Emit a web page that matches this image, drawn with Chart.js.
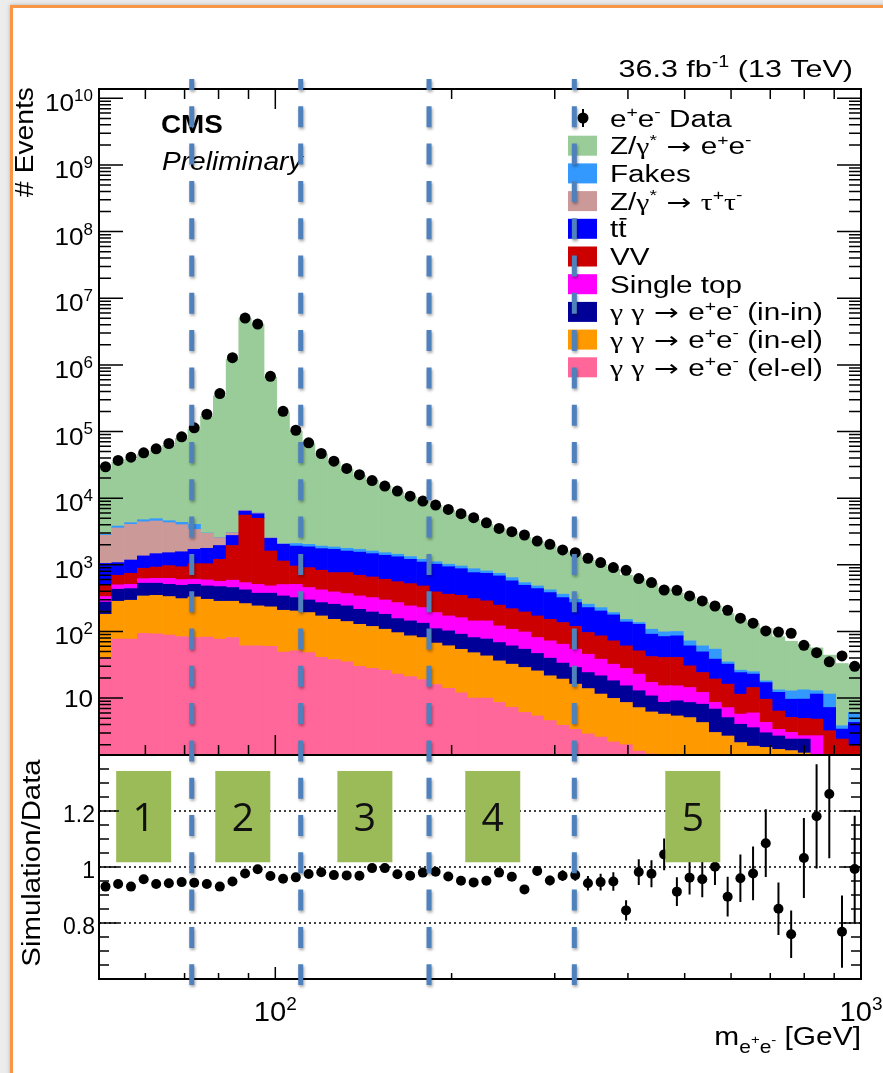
<!DOCTYPE html>
<html>
<head>
<meta charset="utf-8">
<script src="https://cdn.jsdelivr.net/npm/chart.js@4/dist/chart.umd.min.js"></script>
<style>
html, body { margin: 0; padding: 0; background: #ececec; }
#slide { position: absolute; left: 10px; top: 5px; width: 900px; height: 1100px; background: #fff;
         border-left: 3px solid #f79646; border-top: 3px solid #f79646; box-shadow: 0 0 4px rgba(0,0,0,0.25); }
canvas { position: absolute; left: 0; top: 0; }
</style>
</head>
<body>
<div id="slide"></div>
<canvas id="upper" width="883" height="1073"></canvas>
<canvas id="lower" width="883" height="1073"></canvas>
<script>
// bin centres of m(ee) in GeV (60 log bins, 50 - 1000 GeV)
const massBins = [51.3, 53.9, 56.7, 59.6, 62.6, 65.8, 69.2, 72.7, 76.4, 80.4,
  84.5, 88.8, 93.3, 98.1, 103.1, 108.4, 114.0, 119.8, 125.9, 132.4,
  139.2, 146.3, 153.8, 161.6, 169.9, 178.6, 187.8, 197.4, 207.5, 218.1,
  229.3, 241.0, 253.4, 266.3, 280.0, 294.3, 309.4, 325.2, 341.8, 359.3,
  377.7, 397.1, 417.4, 438.8, 461.2, 484.9, 509.7, 535.8, 563.2, 592.0,
  622.4, 654.2, 687.7, 722.9, 759.9, 798.9, 839.8, 882.8, 928.0, 975.5];

// observed events
const dataEvents = [29600, 36800, 41200, 48000, 55100, 66100, 83300, 113600, 181600, 370800,
  1284000, 5050000, 4100000, 673000, 201400, 104500, 67700, 46800, 35900, 27900,
  22500, 18400, 15200, 12800, 10700, 9040, 7870, 6780, 5850, 5090,
  4260, 3520, 3140, 2800, 2270, 2030, 1670, 1520, 1250, 1080,
  908, 827, 621, 541, 419, 415, 341, 287, 241, 208,
  158, 133, 102, 98, 94, 62, 48, 35, 43, 30];

// simulated contributions (stacked, bottom first)
const ggElEl = [41, 77, 77, 94, 92, 88, 84, 81, 82, 77,
  81, 61, 61, 60, 49, 51, 48, 41, 38, 35,
  30, 28, 26, 23, 21, 19, 16, 14, 12, 10,
  10, 8.6, 7.3, 6.1, 5.4, 4.6, 3.9, 3.4, 2.9, 2.6,
  2.2, 2.0, 1.6, 1.45, 1.3, 1.2, 1.1, 1.0, 0.95, 0.9,
  0.85, 0.8, 0.75, 0.7, 0.65, 0.6, 0.55, 0.5, 0.45, 0.4];
const ggInEl = [140, 207, 217, 247, 256, 246, 227, 249, 222, 207,
  203, 201, 181, 174, 159, 152, 144, 130, 114, 106,
  98, 91, 82, 73, 65, 62, 51, 47, 42, 38,
  33, 27.6, 25, 22.7, 20.2, 17, 15.4, 12.8, 11, 8.9,
  7.7, 6.6, 5.6, 4.75, 4.45, 4.2, 4.0, 3.3, 2.1, 1.8,
  1.3, 1.1, 1.07, 1.0, 0.98, 0.9, 0.6, 0.6, 0.55, 0.5];
const ggInIn = [95, 146, 146, 189, 182, 176, 182, 180, 178, 188,
  172, 159, 133, 141, 133, 119, 105, 100, 104, 101,
  87, 77, 73, 60, 58, 52, 43, 41, 37, 33,
  34, 32, 28.5, 25.4, 21.2, 18.1, 14.2, 12.6, 10.3, 10.1,
  8.3, 6.7, 5.7, 4.6, 2.9, 3.7, 3.5, 3.8, 3.8, 2.4,
  1.9, 1.7, 1.2, 1.0, 0.8, 0.93, 0.25, 0.2, 0.25, 0.3];
const singleTop = [58, 70, 70, 90, 97, 117, 107, 97, 112, 94,
  132, 120, 135, 107, 164, 188, 159, 150, 136, 128,
  126, 126, 116, 115, 98, 95, 82, 69, 70, 63,
  67, 53, 47, 44, 34.3, 32.6, 30.9, 25.4, 21.4, 16.8,
  14.1, 12.5, 10, 6.4, 6.7, 6.2, 5.8, 4.1, 1.8, 2.1,
  1.7, 2.4, 1.3, 0.7, 0.63, 0.3, 1.33, 0.1, 0.15, 0.2];
const diboson = [166, 197, 236, 268, 298, 345, 336, 433, 446, 644,
  1360, 5050, 4470, 1130, 635, 450, 451, 409, 372, 394,
  356, 335, 310, 287, 280, 254, 200, 191, 187, 167,
  144, 127, 112, 98, 90, 80, 71.6, 64.8, 50.8, 47.5,
  40, 33, 28.3, 24.8, 25.4, 25.4, 16.1, 12, 10.7, 9,
  5.7, 8.4, 5.3, 3, 2.07, 2.23, 2.11, 1.84, 1.03, 0.53];
const ttbar = [550, 383, 434, 472, 545, 548, 634, 670, 730, 740,
  810, 820, 860, 880, 890, 950, 953, 920, 946, 846,
  853, 813, 783, 762, 688, 618, 628, 574, 526, 453,
  458, 433, 355, 297, 269, 231, 186, 152, 132, 117,
  105, 78, 77, 49, 43.3, 45.2, 30.3, 25.2, 19.1, 16.1,
  12.7, 8.5, 7.5, 5.8, 4.5, 4.7, 6.66, 4.0, 1.0, 2.39];
const zTauTau = [1730, 2490, 2870, 3060, 3070, 2770, 2430, 1690, 1200, 600,
  270, 150, 150, 60, 30, 0, 0, 0, 0, 0,
  0, 0, 0, 0, 0, 0, 0, 0, 0, 0,
  0, 0, 0, 0, 0, 0, 0, 0, 0, 0,
  0, 0, 0, 0, 0, 0, 0, 0, 0, 0,
  0, 0, 0, 0, 0, 0, 0, 0, 0, 0];
const fakes = [90, 250, 240, 330, 380, 300, 340, 650, 30, 20,
  20, 20, 20, 20, 40, 180, 170, 160, 140, 160,
  160, 140, 130, 120, 120, 110, 90, 84, 86, 110,
  64, 65, 68, 48, 42, 38, 40, 33, 28, 25,
  15, 13, 8, 17, 14.5, 14, 11.5, 11.4, 15.8, 2.6,
  2.1, 2, 1, 1.1, 3.2, 3.64, 1.4, 4.25, 0.42, 1.78];
const zee = [24600, 30700, 34000, 41150, 46800, 57700, 74460, 103150, 167500, 342200,
  1214000, 4927000, 4061000, 648900, 190800, 98500, 63970, 44000, 33000, 25290,
  20090, 16720, 13620, 11030, 9040, 7650, 6630, 5540, 4600, 3940,
  3240, 2700, 2390, 2035, 1756, 1512, 1256, 1172, 922, 794,
  669, 547, 474, 420, 339, 278, 256, 213, 187, 151,
  125, 105, 93, 70, 58.5, 50.7, 43.8, 32.6, 29.2, 23.7];

// simulation / data ratio and its uncertainty
const ratio = [0.930, 0.939, 0.930, 0.956, 0.939, 0.942, 0.946, 0.944, 0.939, 0.930,
  0.948, 0.977, 0.992, 0.968, 0.958, 0.963, 0.975, 0.981, 0.971, 0.970,
  0.969, 0.996, 0.996, 0.974, 0.969, 0.980, 0.983, 0.966, 0.951, 0.945,
  0.951, 0.980, 0.965, 0.920, 0.986, 0.952, 0.969, 0.971, 0.942, 0.946,
  0.948, 0.845, 0.982, 0.976, 1.045, 0.912, 0.962, 0.956, 1.001, 0.894,
  0.960, 0.977, 1.085, 0.851, 0.760, 1.032, 1.181, 1.261, 0.769, 0.993];
const ratioErr = [0.003, 0.003, 0.003, 0.003, 0.003, 0.003, 0.003, 0.002, 0.002, 0.001,
  0.001, 0.001, 0.001, 0.001, 0.002, 0.002, 0.003, 0.003, 0.004, 0.004,
  0.004, 0.005, 0.005, 0.006, 0.006, 0.007, 0.007, 0.008, 0.009, 0.010,
  0.011, 0.012, 0.013, 0.014, 0.016, 0.017, 0.019, 0.020, 0.026, 0.030,
  0.033, 0.036, 0.046, 0.048, 0.057, 0.051, 0.060, 0.064, 0.065, 0.071,
  0.085, 0.096, 0.121, 0.094, 0.085, 0.143, 0.186, 0.230, 0.129, 0.190];

// axis ticks
const massTicks = [60, 70, 80, 90, 100, 200, 300, 400, 500, 600, 700, 800, 900, 1000];
const massLabelPowers = [2, 3];
const eventPowers = [1, 2, 3, 4, 5, 6, 7, 8, 9, 10];
const ratioMajor = [0.8, 1, 1.2];
const ratioMinor = [0.65, 0.7, 0.75, 0.85, 0.9, 0.95, 1.05, 1.1, 1.15, 1.25, 1.3, 1.35];

// slide annotations: region borders (GeV) and numbered boxes
const regionCuts = [72, 110.5, 183, 324];
const regionBoxMass = [59.6, 88.0, 142.2, 235.1, 516.2];
const regionBoxRatio = [1.017, 1.343];
const regionLabels = ['1', '2', '3', '4', '5'];

const SANS = "'Liberation Sans', Arial, Helvetica, sans-serif";
const SERIF = "'Liberation Serif', 'DejaVu Serif', serif";
const ARROW = "'DejaVu Sans', sans-serif";

const processes = [
  { values: ggElEl, color: '#ff6699', text: [['γ', 'g'], [' '], ['γ', 'g'], [' → ', 'a'], ['e'], ['+', 'p'], ['e'], ['-', 'p'], [' (el-el)']] },
  { values: ggInEl, color: '#ff9900', text: [['γ', 'g'], [' '], ['γ', 'g'], [' → ', 'a'], ['e'], ['+', 'p'], ['e'], ['-', 'p'], [' (in-el)']] },
  { values: ggInIn, color: '#000099', text: [['γ', 'g'], [' '], ['γ', 'g'], [' → ', 'a'], ['e'], ['+', 'p'], ['e'], ['-', 'p'], [' (in-in)']] },
  { values: singleTop, color: '#ff00ff', text: [['Single top']] },
  { values: diboson, color: '#cc0000', text: [['VV']] },
  { values: ttbar, color: '#0000ff', text: [['t'], ['t', 'o']] },
  { values: zTauTau, color: '#cc9999', text: [['Z/'], ['γ', 'g'], ['*', 'p'], [' → ', 'a'], ['τ', 'g'], ['+', 'p'], ['τ', 'g'], ['-', 'p']] },
  { values: fakes, color: '#3399ff', text: [['Fakes']] },
  { values: zee, color: '#99cc99', text: [['Z/'], ['γ', 'g'], ['*', 'p'], [' → ', 'a'], ['e'], ['+', 'p'], ['e'], ['-', 'p']] }
];

// draws text with super/subscripts; flags: p = sup, b = sub, q = sup inside sub, g = serif, a = arrow font, o = overline
function richText(ctx, parts, x, y, o) {
  const size = o.size;
  const scaleOf = m => m === 'p' ? 0.65 : m === 'b' ? 0.7 : m === 'q' ? 0.5 : 1;
  const shiftOf = m => m === 'p' ? -0.42 * size : m === 'b' ? 0.3 * size : m === 'q' ? -0.02 * size : 0;
  const fontOf = (m, fam) => ((o.style || '') + ' ' + (size * scaleOf(m)).toFixed(1) + 'px ' + fam).trim();
  ctx.save();
  ctx.translate(x, y);
  if (o.rotate) ctx.rotate(o.rotate);
  ctx.scale(o.stretch || 1, 1);
  ctx.fillStyle = o.color || '#000';
  ctx.textAlign = 'left';
  ctx.textBaseline = 'alphabetic';
  const items = parts.map(p => {
    const flags = p[1] || '';
    const mode = flags.replace(/[goa]/g, '');
    const fam = flags.includes('g') ? SERIF : flags.includes('a') ? ARROW : SANS;
    ctx.font = fontOf(mode, fam);
    return { t: p[0], mode, fam, over: flags.includes('o'), w: ctx.measureText(p[0]).width };
  });
  const total = items.reduce((s, it) => s + it.w, 0);
  let cx = o.align === 'right' ? -total : o.align === 'center' ? -total / 2 : 0;
  items.forEach(it => {
    ctx.font = fontOf(it.mode, it.fam);
    const dy = shiftOf(it.mode);
    ctx.fillText(it.t, cx, dy);
    if (it.over) ctx.fillRect(cx + 1, dy - size * 0.84, it.w - 1, size * 0.07);
    cx += it.w;
  });
  ctx.restore();
}

const upperDecor = {
  id: 'upperDecor',
  afterDraw(chart) {
    const { ctx, chartArea: a, scales: { x, y } } = chart;
    ctx.save();
    ctx.strokeStyle = '#000';
    ctx.lineWidth = 1.5;
    ctx.beginPath();
    massTicks.forEach(v => {
      const px = x.getPixelForValue(v);
      const len = (v === 100 || v === 1000) ? 20 : 10;
      ctx.moveTo(px, a.top); ctx.lineTo(px, a.top + len);
      ctx.moveTo(px, a.bottom); ctx.lineTo(px, a.bottom - len);
    });
    for (let p = 0; p <= 10; p++) {
      for (let k = 1; k <= 9; k++) {
        const v = k * Math.pow(10, p);
        if (v < y.min || v > y.max) continue;
        const py = y.getPixelForValue(v);
        const len = k === 1 ? 24 : 12;
        ctx.moveTo(a.left, py); ctx.lineTo(a.left + len, py);
        ctx.moveTo(a.right, py); ctx.lineTo(a.right - len, py);
      }
    }
    ctx.stroke();
    ctx.lineWidth = 2;
    ctx.strokeRect(a.left, a.top, a.right - a.left, a.bottom - a.top);

    // y tick labels
    eventPowers.forEach(p => {
      const py = y.getPixelForValue(Math.pow(10, p));
      if (p === 1) richText(ctx, [['10']], a.left - 6, py + 9, { size: 24, stretch: 1.09, align: 'right' });
      else richText(ctx, [['10'], [String(p), 'p']], a.left - 6, py + 13, { size: 24, stretch: 1.09, align: 'right' });
    });

    // titles
    richText(ctx, [['# Events']], 33, a.top - 2, { size: 25, stretch: 1.13, align: 'right', rotate: -Math.PI / 2 });
    richText(ctx, [['36.3 fb'], ['-1', 'p'], [' (13 TeV)']], 853, 77, { size: 24, stretch: 1.27, align: 'right' });
    richText(ctx, [['CMS']], 161, 133, { size: 26, stretch: 1.07, style: 'bold' });
    richText(ctx, [['Preliminary']], 162, 170, { size: 26, stretch: 1.08, style: 'italic' });

    // legend
    const lx = 568, ly = 118, step = 27.7;
    ctx.fillStyle = '#000';
    ctx.beginPath();
    ctx.arc(lx + 15, ly, 5.5, 0, Math.PI * 2);
    ctx.fill();
    ctx.lineWidth = 2;
    ctx.beginPath();
    ctx.moveTo(lx + 15, ly - 9); ctx.lineTo(lx + 15, ly + 9);
    ctx.stroke();
    richText(ctx, [['e'], ['+', 'p'], ['e'], ['-', 'p'], [' Data']], 610, ly + 8.5, { size: 23, stretch: 1.29 });
    processes.slice().reverse().forEach((pr, i) => {
      const cy = ly + step * (i + 1);
      ctx.fillStyle = pr.color;
      ctx.fillRect(lx, cy - 10, 29, 20);
      richText(ctx, pr.text, 610, cy + 8.5, { size: 23, stretch: 1.29 });
    });
    ctx.restore();
  }
};

const lowerDecor = {
  id: 'lowerDecor',
  beforeDatasetsDraw(chart) {
    const { ctx, chartArea: a, scales: { x, y } } = chart;
    ctx.save();
    ctx.strokeStyle = '#000';
    ctx.lineWidth = 1.3;
    ctx.setLineDash([2, 3]);
    ctx.beginPath();
    ratioMajor.forEach(v => {
      const py = y.getPixelForValue(v);
      ctx.moveTo(a.left, py); ctx.lineTo(a.right, py);
    });
    ctx.stroke();
    ctx.setLineDash([]);
    ctx.beginPath();
    ctx.rect(a.left, a.top, a.right - a.left, a.bottom - a.top);
    ctx.clip();
    ctx.lineWidth = 2;
    ctx.beginPath();
    massBins.forEach((m, i) => {
      const px = x.getPixelForValue(m);
      ctx.moveTo(px, y.getPixelForValue(ratio[i] - ratioErr[i]));
      ctx.lineTo(px, y.getPixelForValue(ratio[i] + ratioErr[i]));
    });
    ctx.stroke();
    ctx.restore();
  },
  afterDatasetsDraw(chart) {
    const { ctx, scales: { x, y } } = chart;
    ctx.save();
    const top = y.getPixelForValue(regionBoxRatio[1]);
    const bottom = y.getPixelForValue(regionBoxRatio[0]);
    regionBoxMass.forEach((m, i) => {
      const cx = x.getPixelForValue(m);
      ctx.fillStyle = '#9bbb59';
      ctx.fillRect(cx - 27.5, top, 55, bottom - top);
      ctx.fillStyle = '#111';
      ctx.font = "39px 'Open Sans', 'DejaVu Sans', sans-serif";
      ctx.textAlign = 'center';
      ctx.textBaseline = 'alphabetic';
      ctx.fillText(regionLabels[i], cx, (top + bottom) / 2 + 14);
    });
    ctx.restore();
  },
  afterDraw(chart) {
    const { ctx, chartArea: a, scales: { x, y } } = chart;
    ctx.save();
    ctx.strokeStyle = '#000';
    ctx.lineWidth = 1.5;
    ctx.beginPath();
    massTicks.forEach(v => {
      const px = x.getPixelForValue(v);
      const len = (v === 100 || v === 1000) ? 12 : 6;
      ctx.moveTo(px, a.bottom); ctx.lineTo(px, a.bottom - len);
    });
    ratioMajor.concat(ratioMinor).forEach(v => {
      const py = y.getPixelForValue(v);
      const len = ratioMajor.includes(v) ? 20 : 10;
      ctx.moveTo(a.left, py); ctx.lineTo(a.left + len, py);
      ctx.moveTo(a.right, py); ctx.lineTo(a.right - len, py);
    });
    ctx.stroke();
    ctx.lineWidth = 2;
    ctx.strokeRect(a.left, a.top, a.right - a.left, a.bottom - a.top);

    ratioMajor.forEach(v => {
      richText(ctx, [[String(v)]], a.left - 4, y.getPixelForValue(v) + 11, { size: 23, align: 'right' });
    });
    massLabelPowers.forEach(p => {
      richText(ctx, [['10'], [String(p), 'p']], x.getPixelForValue(Math.pow(10, p)), a.bottom + 42, { size: 27, stretch: 1.08, align: 'center' });
    });
    richText(ctx, [['Simulation/Data']], 40, (a.top + a.bottom) / 2 - 4, { size: 26, stretch: 1.13, align: 'center', rotate: -Math.PI / 2 });
    richText(ctx, [['m'], ['e', 'b'], ['+', 'q'], ['e', 'b'], ['-', 'q'], [' [GeV]']], a.right, a.bottom + 66, { size: 26, stretch: 1.15, align: 'right' });

    // region borders drawn over both panels
    const yTop = upperChart.chartArea.top - 10;
    const yBottom = a.bottom + 6;
    ctx.strokeStyle = '#4f81bd';
    ctx.lineWidth = 5;
    ctx.setLineDash([21, 16.3]);
    ctx.lineDashOffset = 10;
    ctx.shadowColor = 'rgba(0,0,0,0.35)';
    ctx.shadowBlur = 3;
    ctx.shadowOffsetX = 1;
    ctx.shadowOffsetY = 2;
    regionCuts.forEach(m => {
      const px = x.getPixelForValue(m);
      ctx.beginPath();
      ctx.moveTo(px, yTop);
      ctx.lineTo(px, yBottom);
      ctx.stroke();
    });
    ctx.restore();
  }
};

const upperChart = new Chart(document.getElementById('upper'), {
  type: 'bar',
  data: {
    datasets: [
      {
        type: 'line',
        label: 'Data',
        data: massBins.map((m, i) => ({ x: m, y: dataEvents[i] })),
        showLine: false,
        pointRadius: 5.5,
        pointBackgroundColor: '#000',
        pointBorderWidth: 0,
        stack: 'data'
      }
    ].concat(processes.map(pr => ({
      data: massBins.map((m, i) => ({ x: m, y: pr.values[i] || null })),
      backgroundColor: pr.color,
      borderWidth: 0,
      stack: 'mc',
      barThickness: 'flex',
      barPercentage: 1,
      categoryPercentage: 1
    })))
  },
  options: {
    responsive: false,
    animation: false,
    events: [],
    layout: { padding: { left: 99, right: 22, top: 89, bottom: 318 } },
    plugins: { legend: { display: false }, tooltip: { enabled: false } },
    scales: {
      x: { type: 'logarithmic', min: 50, max: 1000, offset: false, stacked: true, display: false },
      y: { type: 'logarithmic', min: 1.4, max: 1.38e10, stacked: true, display: false }
    }
  },
  plugins: [upperDecor]
});

const lowerChart = new Chart(document.getElementById('lower'), {
  type: 'scatter',
  data: {
    datasets: [{
      data: massBins.map((m, i) => ({ x: m, y: ratio[i] })),
      pointRadius: 5,
      pointBackgroundColor: '#000',
      pointBorderWidth: 0
    }]
  },
  options: {
    responsive: false,
    animation: false,
    events: [],
    layout: { padding: { left: 99, right: 22, top: 755, bottom: 94 } },
    plugins: { legend: { display: false }, tooltip: { enabled: false } },
    scales: {
      x: { type: 'logarithmic', min: 50, max: 1000, display: false },
      y: { type: 'linear', min: 0.6, max: 1.4, display: false }
    }
  },
  plugins: [lowerDecor]
});
</script>
</body>
</html>
